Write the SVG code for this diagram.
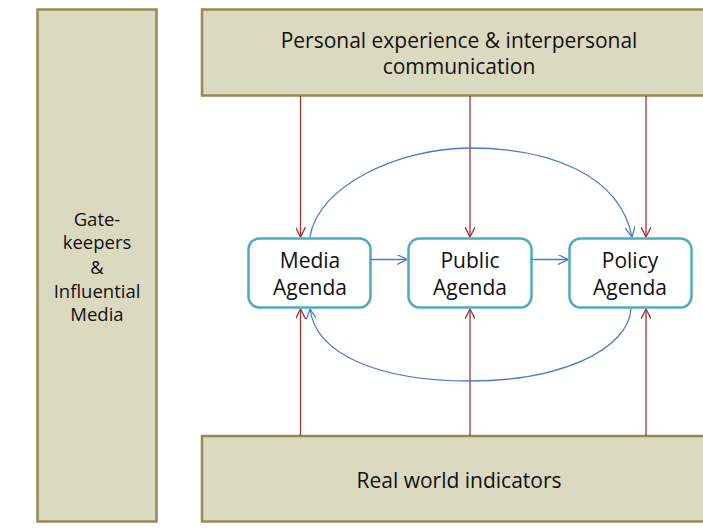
<svg xmlns="http://www.w3.org/2000/svg" width="703" height="530" viewBox="0 0 703 530">
<style>
.band{fill:#DBD9C0;stroke:#948A54;stroke-width:2.5}
.node{fill:#FFFFFF;stroke:#4BACC6;stroke-width:2.5}
text{font-family:"Open Sans","Liberation Sans",sans-serif;font-size:21px;fill:#111111;text-anchor:middle}
.side{font-size:18.5px}
.red{stroke:#A8322D;stroke-width:1.3;fill:none}
.blue{stroke:#4A7DC8;stroke-width:1.3;fill:none}
</style>
<defs>
<marker id="ar" viewBox="0 0 10 10" refX="10" refY="5" markerWidth="10" markerHeight="10" markerUnits="userSpaceOnUse" orient="auto">
<path d="M0,0 L10,5 L0,10" fill="none" stroke="#A8322D" stroke-width="1.3"/>
</marker>
<marker id="ab" viewBox="0 0 10 10" refX="10" refY="5" markerWidth="10" markerHeight="10" markerUnits="userSpaceOnUse" orient="auto">
<path d="M0,0 L10,5 L0,10" fill="none" stroke="#4A7DC8" stroke-width="1.3"/>
</marker>
</defs>
<rect width="703" height="530" fill="#FFFFFF"/>
<g id="gatekeepers">
<rect class="band" x="37.5" y="9.5" width="119" height="512"/>
<text class="side" x="97" y="226">Gate-</text>
<text class="side" x="97" y="249">keepers</text>
<text class="side" x="97" y="274">&amp;</text>
<text class="side" x="97" y="298">Influential</text>
<text class="side" x="97" y="321">Media</text>
</g>
<g id="personal">
<rect class="band" x="202" y="9.5" width="510" height="86"/>
<text x="459" y="48">Personal experience &amp; interpersonal</text>
<text x="459" y="74">communication</text>
</g>
<g id="realworld">
<rect class="band" x="202" y="436" width="510" height="85.5"/>
<text x="459" y="488">Real world indicators</text>
</g>
<g id="media">
<rect class="node" x="248.5" y="238.5" width="122" height="69" rx="11"/>
<text x="310" y="268">Media</text>
<text x="310" y="295">Agenda</text>
</g>
<g id="public">
<rect class="node" x="408.5" y="238.5" width="123" height="69" rx="11"/>
<text x="470" y="268">Public</text>
<text x="470" y="295">Agenda</text>
</g>
<g id="policy">
<rect class="node" x="569.5" y="238.5" width="122" height="69" rx="11"/>
<text x="630" y="268">Policy</text>
<text x="630" y="295">Agenda</text>
</g>
<g id="connectors">
<line class="red" x1="300.5" y1="96" x2="300.5" y2="237" marker-end="url(#ar)"/>
<line class="red" x1="470" y1="96" x2="470" y2="237" marker-end="url(#ar)"/>
<line class="red" x1="646" y1="96" x2="646" y2="237" marker-end="url(#ar)"/>
<line class="red" x1="300.5" y1="436" x2="300.5" y2="309" marker-end="url(#ar)"/>
<line class="red" x1="470" y1="436" x2="470" y2="309" marker-end="url(#ar)"/>
<line class="red" x1="646" y1="436" x2="646" y2="309" marker-end="url(#ar)"/>
<line class="blue" x1="371" y1="259.5" x2="407" y2="259.5" marker-end="url(#ab)"/>
<line class="blue" x1="532" y1="259.5" x2="568" y2="259.5" marker-end="url(#ab)"/>
<path class="blue" d="M310,237 C318,185 400,148 470,148 C550,148 620,175 632,237" marker-end="url(#ab)"/>
<path class="blue" d="M631,309 C628,350 560,381 470,381 C380,381 316,355 310,309" marker-end="url(#ab)"/>
</g>
</svg>
